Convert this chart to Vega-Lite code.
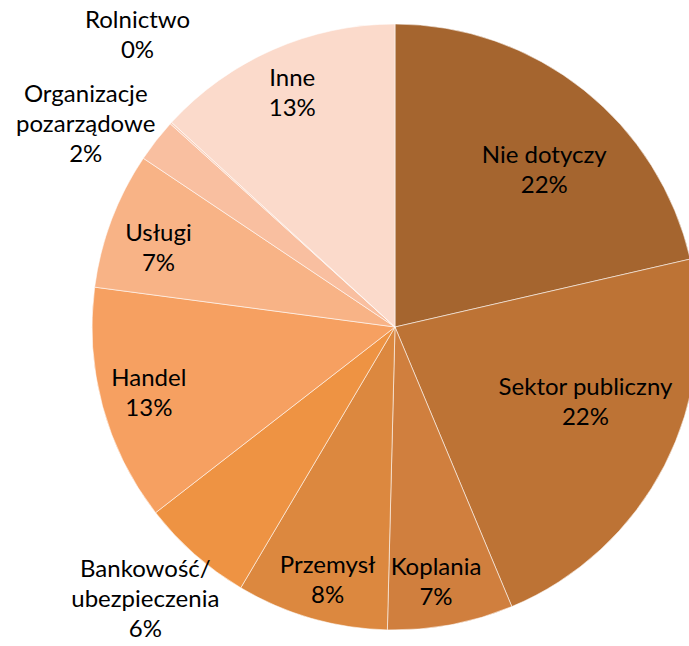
{
  "$schema": "https://vega.github.io/schema/vega-lite/v6.json",
  "width": 790,
  "height": 654,
  "autosize": {"type": "none"},
  "padding": 0,
  "background": "white",
  "config": {"view": {"stroke": null}},
  "data": {
    "values": [
      {"i": 1, "cat": "Nie dotyczy", "share": 21.4, "label": "Nie dotyczy\n22%"},
      {"i": 2, "cat": "Sektor publiczny", "share": 22.3, "label": "Sektor publiczny\n22%"},
      {"i": 3, "cat": "Koplania", "share": 6.7, "label": "Koplania\n7%"},
      {"i": 4, "cat": "Przemysł", "share": 8.1, "label": "Przemysł\n8%"},
      {"i": 5, "cat": "Bankowość/ubezpieczenia", "share": 6.0, "label": "Bankowość/\nubezpieczenia\n6%"},
      {"i": 6, "cat": "Handel", "share": 12.6, "label": "Handel\n13%"},
      {"i": 7, "cat": "Usługi", "share": 7.3, "label": "Usługi\n7%"},
      {"i": 8, "cat": "Organizacje pozarządowe", "share": 2.3, "label": "Organizacje\npozarządowe\n2%"},
      {"i": 9, "cat": "Rolnictwo", "share": 0.1, "label": "Rolnictwo\n0%"},
      {"i": 10, "cat": "Inne", "share": 13.2, "label": "Inne\n13%"}
    ]
  },
  "encoding": {
    "theta": {"field": "share", "type": "quantitative", "stack": true},
    "order": {"field": "i", "type": "quantitative"}
  },
  "layer": [
    {
      "mark": {"type": "arc", "outerRadius": 303, "stroke": "white", "strokeWidth": 0.7, "strokeOpacity": 0.8},
      "encoding": {
        "color": {
          "field": "cat",
          "type": "nominal",
          "legend": null,
          "scale": {
            "domain": ["Nie dotyczy", "Sektor publiczny", "Koplania", "Przemysł", "Bankowość/ubezpieczenia", "Handel", "Usługi", "Organizacje pozarządowe", "Rolnictwo", "Inne"],
            "range": ["#A5652F", "#BD7335", "#D07F3E", "#DC883F", "#EE9343", "#F6A061", "#F8B386", "#F9BFA0", "#FACEB8", "#FBDACB"]
          }
        }
      }
    },
    {
      "mark": {"type": "text", "radius": 255, "dy": -15, "font": "Lato", "fontSize": 24, "lineHeight": 30, "lineBreak": "\n", "color": "black", "baseline": "middle", "align": "center"},
      "encoding": {
        "text": {"condition": {"test": "indexof(['Handel','Inne'], datum.cat) >= 0", "field": "label"}, "value": ""}
      }
    },
    {
      "mark": {"type": "text", "radius": 255, "dx": 2, "dy": -3, "font": "Lato", "fontSize": 24, "lineHeight": 30, "lineBreak": "\n", "color": "black", "baseline": "middle", "align": "center"},
      "encoding": {
        "text": {"condition": {"test": "datum.cat == 'Usługi'", "field": "label"}, "value": ""}
      }
    },
    {
      "mark": {"type": "text", "radius": 255, "dx": 3, "dy": -6, "font": "Lato", "fontSize": 24, "lineHeight": 30, "lineBreak": "\n", "color": "black", "baseline": "middle", "align": "center"},
      "encoding": {
        "text": {"condition": {"test": "datum.cat == 'Przemysł'", "field": "label"}, "value": ""}
      }
    },
    {
      "mark": {"type": "text", "radius": 255, "dx": -6, "dy": -10, "font": "Lato", "fontSize": 24, "lineHeight": 30, "lineBreak": "\n", "color": "black", "baseline": "middle", "align": "center"},
      "encoding": {
        "text": {"condition": {"test": "datum.cat == 'Koplania'", "field": "label"}, "value": ""}
      }
    },
    {
      "mark": {"type": "text", "radius": 222, "dx": 11, "dy": 3, "font": "Lato", "fontSize": 24, "lineHeight": 30, "lineBreak": "\n", "color": "black", "baseline": "middle", "align": "center"},
      "encoding": {
        "text": {"condition": {"test": "datum.cat == 'Nie dotyczy'", "field": "label"}, "value": ""}
      }
    },
    {
      "mark": {"type": "text", "radius": 204, "dx": 9, "dy": -32, "font": "Lato", "fontSize": 24, "lineHeight": 30, "lineBreak": "\n", "color": "black", "baseline": "middle", "align": "center"},
      "encoding": {
        "text": {"condition": {"test": "datum.cat == 'Sektor publiczny'", "field": "label"}, "value": ""}
      }
    },
    {
      "mark": {"type": "text", "radius": 370, "dx": -5, "dy": -35, "font": "Lato", "fontSize": 24, "lineHeight": 30, "lineBreak": "\n", "color": "black", "baseline": "middle", "align": "center"},
      "encoding": {
        "text": {"condition": {"test": "datum.cat == 'Bankowość/ubezpieczenia'", "field": "label"}, "value": ""}
      }
    },
    {
      "mark": {"type": "text", "radius": 367, "dx": -20, "dy": -6, "font": "Lato", "fontSize": 24, "lineHeight": 30, "lineBreak": "\n", "color": "black", "baseline": "middle", "align": "center"},
      "encoding": {
        "text": {"condition": {"test": "datum.cat == 'Organizacje pozarządowe'", "field": "label"}, "value": ""}
      }
    },
    {
      "mark": {"type": "text", "radius": 386, "dx": 28, "dy": -46, "font": "Lato", "fontSize": 24, "lineHeight": 30, "lineBreak": "\n", "color": "black", "baseline": "middle", "align": "center"},
      "encoding": {
        "text": {"condition": {"test": "datum.cat == 'Rolnictwo'", "field": "label"}, "value": ""}
      }
    }
  ]
}
